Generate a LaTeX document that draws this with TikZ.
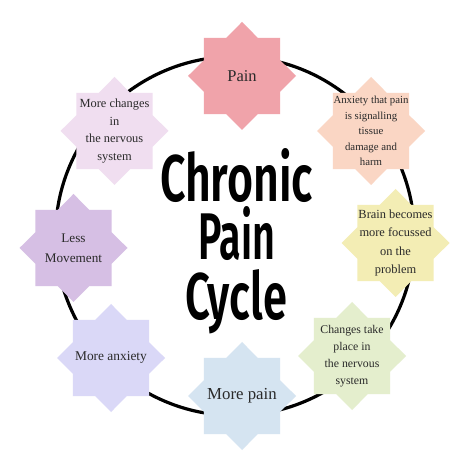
\documentclass[tikz,border=0pt]{standalone}
\usepackage{fontspec}
\setmainfont{Liberation Serif}
\newfontfamily\titlefont{Fira Sans SemiBold}
\usetikzlibrary{shapes.geometric}
\definecolor{cPain}{HTML}{F0A3AA}
\definecolor{cAnx}{HTML}{FAD6C4}
\definecolor{cBrain}{HTML}{F3EDB4}
\definecolor{cChg}{HTML}{E4EECD}
\definecolor{cMpain}{HTML}{D5E4F1}
\definecolor{cManx}{HTML}{DAD8F7}
\definecolor{cLess}{HTML}{D6BFE4}
\definecolor{cMchg}{HTML}{F0DEF0}
\definecolor{ink}{HTML}{2A2A2A}
\tikzset{
  ring/.style={draw=black, line width=3.2pt},
  starbox/.style={star, star points=8, star point ratio=1.307, minimum size=108pt, inner sep=0pt, draw=none},
  lbl/.style={align=center, text=ink, inner sep=0pt},
  ttl/.style={anchor=base, inner sep=0pt, text=black}
}
\newcommand{\ttlword}[2]{\resizebox{#1}{\height}{\titlefont\fontsize{66}{66}\selectfont #2}}
\begin{document}
\begin{tikzpicture}[x=1pt,y=-1pt]
\fill[white] (0,0) rectangle (474,470);
\path[use as bounding box] (0,0) rectangle (474,470);
\coordinate (c) at (235,236);
\draw[ring] (c) circle[radius=179.5pt];

\node[starbox, fill=cPain]  (s1) at (242,76) {};
\node[starbox, fill=cAnx]   (s2) at (371,131) {};
\node[starbox, fill=cBrain] (s3) at (395.5,243) {};
\node[starbox, fill=cChg]   (s4) at (352,356) {};
\node[starbox, fill=cMpain] (s5) at (242,396) {};
\node[starbox, fill=cManx]  (s6) at (111,358) {};
\node[starbox, fill=cLess]  (s7) at (73.5,248) {};
\node[starbox, fill=cMchg]  (s8) at (114.5,131) {};

\node[lbl, font=\fontsize{16.5}{20}\selectfont] (t1) at (s1) {Pain};
\node[lbl, font=\fontsize{10.8}{15.4}\selectfont] (t2) at (s2) {Anxiety that pain\\is signalling\\tissue\\damage and\\harm};
\node[lbl, font=\fontsize{12.4}{18.3}\selectfont] (t3) at (s3) {Brain becomes\\more focussed\\on the\\problem};
\node[lbl, font=\fontsize{11.8}{16.8}\selectfont] (t4) at (s4) {Changes take\\place in\\the nervous\\system};
\node[lbl, font=\fontsize{16.8}{20}\selectfont] (t5) at (s5) {More pain};
\node[lbl, font=\fontsize{13.4}{18}\selectfont] (t6) at (s6) {More anxiety};
\node[lbl, font=\fontsize{13.2}{20}\selectfont] (t7) at (s7) {Less\\Movement};
\node[lbl, font=\fontsize{12.4}{17.7}\selectfont] (t8) at (s8) {More changes\\in\\the nervous\\system};

\node[ttl] (h1) at (236.5,202) {\ttlword{153pt}{Chronic}};
\node[ttl] (h2) at (236.5,260) {\ttlword{77pt}{Pain}};
\node[ttl] (h3) at (236,320) {\ttlword{102pt}{Cycle}};
\end{tikzpicture}
\end{document}
